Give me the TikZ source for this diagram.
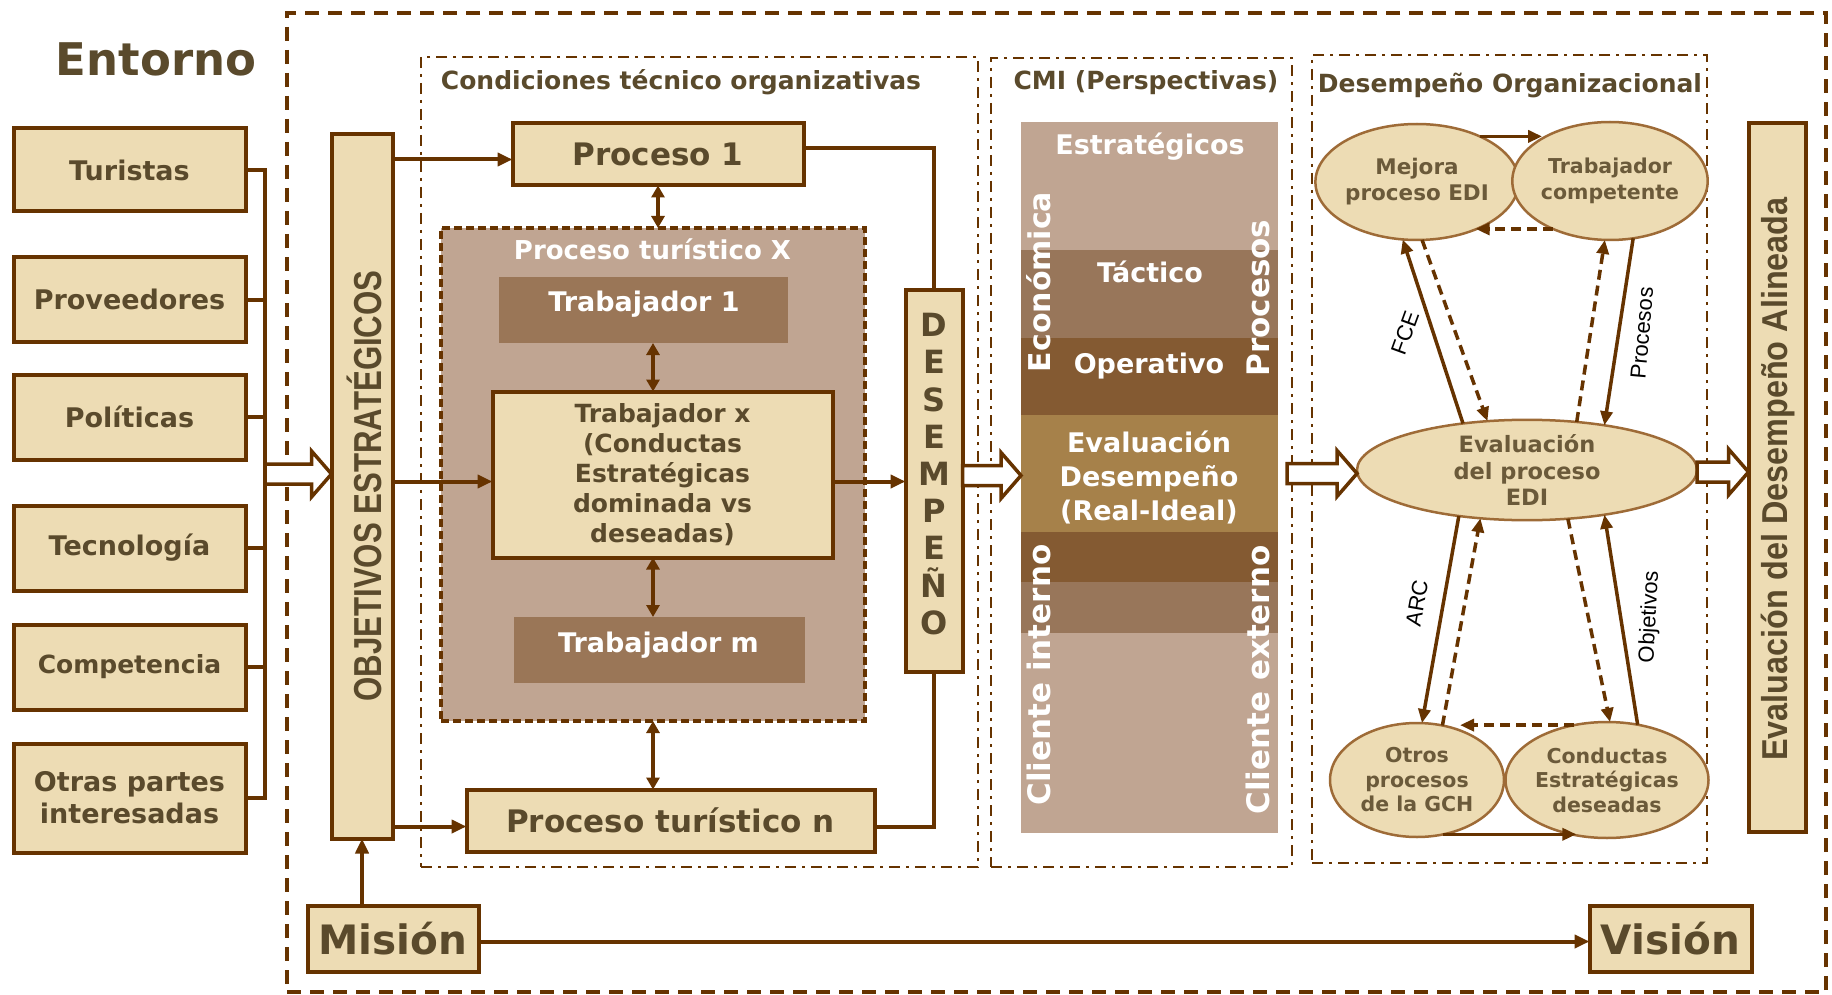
\documentclass[tikz,border=0pt]{standalone}
\usepackage{fontspec}
\usepackage{graphicx}
\setmainfont{DejaVu Sans}
\newfontfamily\arialfont{Liberation Sans}
\usetikzlibrary{arrows.meta,shapes.geometric,calc}

\definecolor{bdr}{HTML}{663300}
\definecolor{beige}{HTML}{EDDCB4}
\definecolor{txt}{HTML}{5A4A2C}
\definecolor{pxfill}{HTML}{C0A592}
\definecolor{wfill}{HTML}{9A7657}
\definecolor{bandA}{HTML}{C0A592}
\definecolor{bandB}{HTML}{98765A}
\definecolor{bandC}{HTML}{845A32}
\definecolor{bandD}{HTML}{A6814A}
\definecolor{elbdr}{HTML}{9E6B37}
\definecolor{eltxt}{HTML}{6B5A3A}

% hollow block arrow from #1 (start of shaft) to #2 (tip), horizontal at the height of #1
\newcommand{\blockarrow}[2]{%
  \draw[blk] let \p1=(#1), \p2=(#2) in
    (\x1,\y1+10pt) -- (\x2-20pt,\y1+10pt) -- (\x2-20pt,\y1+23pt)
    -- (\x2,\y1) -- (\x2-20pt,\y1-23pt) -- (\x2-20pt,\y1-10pt)
    -- (\x1,\y1-10pt) -- cycle;}

\begin{document}
\begin{tikzpicture}[x=1pt,y=-1pt,
  box/.style={draw=bdr, line width=4pt, fill=beige, inner sep=0pt, outer sep=0pt,
    text=txt, align=center, font=\bfseries\fontsize{27}{32}\selectfont},
  wbox/.style={fill=wfill, inner sep=0pt, outer sep=0pt},
  wtxt/.style={text=white, inner sep=0pt, font=\bfseries\fontsize{27}{32}\selectfont},
  cmit/.style={text=white, inner sep=0pt, align=center, font=\bfseries\fontsize{27}{34}\selectfont},
  ttl/.style={text=txt, inner sep=0pt, font=\bfseries\fontsize{25}{30}\selectfont},
  frame/.style={draw=bdr, line width=2.5pt, inner sep=0pt, outer sep=0pt,
    dash pattern=on 11pt off 6pt on 3pt off 6pt},
  outerframe/.style={draw=bdr, line width=4pt, inner sep=0pt, outer sep=0pt,
    dash pattern=on 14pt off 9pt},
  conn/.style={draw=bdr, line width=4pt},
  arr/.style={conn, -{Triangle[length=15pt,width=13pt]}},
  darr/.style={conn, {Triangle[length=12pt,width=13pt]}-{Triangle[length=12pt,width=13pt]}},
  blk/.style={draw=bdr, line width=3.5pt, fill=white, line join=miter},
  ell/.style={ellipse, draw=elbdr, line width=2.5pt, fill=beige, inner sep=0pt, outer sep=0pt,
    align=center, text=eltxt, font=\bfseries\fontsize{20.5}{26}\selectfont},
  earr/.style={draw=bdr, line width=3.5pt, -{Triangle[length=14pt,width=12pt]}},
  edash/.style={earr, dash pattern=on 10pt off 6pt},
  lbl/.style={text=black, inner sep=0pt, font=\arialfont\fontsize{22}{26}\selectfont}
]
\fill[white] (0,0) rectangle (1832,995);
\useasboundingbox (0,0) rectangle (1832,995);

% ---------- frames ----------
\node[outerframe, minimum width=1539, minimum height=979] (outer) at (1056.5,502.5) {};
\node[frame, minimum width=557, minimum height=810] (cond) at (699.5,462) {};
\node[frame, minimum width=301, minimum height=809] (cmi) at (1141.5,462.5) {};
\node[frame, minimum width=395, minimum height=808] (desorg) at (1509.5,459) {};

\node[anchor=base, text=txt, inner sep=0pt, font=\bfseries\fontsize{45}{54}\selectfont] (entorno) at (156,76) {Entorno};
\node[ttl, anchor=base] (condtitle) at (681,90) {Condiciones técnico organizativas};
\node[ttl, anchor=base] (cmititle) at (1146,90) {CMI (Perspectivas)};
\node[ttl, anchor=base] (desorgtitle) at (1510,93) {Desempeño Organizacional};

% ---------- environment ----------
\node[box, minimum width=232, minimum height=83] (tur) at (129.5,170) {Turistas};
\node[box, minimum width=232, minimum height=84] (prov) at (129.5,299.5) {Proveedores};
\node[box, minimum width=232, minimum height=85] (pol) at (129.5,417) {Políticas};
\node[box, minimum width=232, minimum height=85] (tec) at (129.5,548) {Tecnología};
\node[box, minimum width=232, minimum height=85, font=\bfseries\fontsize{25}{30}\selectfont] (comp) at (129.5,667) {Competencia};
\node[box, minimum width=232, minimum height=109] (otras) at (129.5,798) {Otras partes\\interesadas};

\coordinate (brk) at (265,474);
\draw[conn] (tur.east) -| (brk) |- (otras.east);
\foreach \n in {prov,pol,tec,comp}
  \draw[conn] (\n.east) -- (\n.east -| brk);

% ---------- strategic objectives ----------
\node[box, minimum width=61, minimum height=704] (obj) at (362,486.5) {};
\node[rotate=90, text=txt, inner sep=0pt, font=\arialfont\bfseries\fontsize{39}{44}\selectfont] (objtxt) at (364,486) {\scalebox{0.8}[1]{OBJETIVOS ESTRATÉGICOS}};
\blockarrow{brk}{obj.west}

% ---------- processes ----------
\node[box, minimum width=291, minimum height=62, font=\bfseries\fontsize{31}{36}\selectfont] (proc1) at (658,154.5) {Proceso 1};
\node[draw=bdr, line width=4pt, dash pattern=on 8pt off 4pt, fill=pxfill, inner sep=0pt, outer sep=0pt,
  minimum width=424, minimum height=493] (procX) at (653,474.5) {};
\node[wtxt, anchor=base, font=\bfseries\fontsize{26}{30}\selectfont] (procXtxt) at (652.5,260) {Proceso turístico X};
\node[wbox, minimum width=289, minimum height=66] (trab1) at (643.5,310) {};
\node[wtxt, anchor=base] (trab1txt) at (644,312) {Trabajador 1};
\node[box, minimum width=340, minimum height=166, font=\bfseries\fontsize{25}{30}\selectfont] (trabx) at (662.5,474.5)
  {Trabajador x\\(Conductas\\Estratégicas\\dominada vs\\deseadas)};
\node[wbox, minimum width=291, minimum height=66] (trabm) at (659.5,650) {};
\node[wtxt, anchor=base] (trabmtxt) at (658.5,652) {Trabajador m};
\node[box, minimum width=408, minimum height=62, font=\bfseries\fontsize{31}{36}\selectfont] (procn) at (670.5,820.5) {Proceso turístico n};

\node[box, minimum width=57, minimum height=382] (desem) at (934,480.5) {};
\node[text=txt, inner sep=0pt, align=center, font=\bfseries\fontsize{32}{37.2}\selectfont] (desemtxt) at (934,474)
  {D\\E\\S\\E\\M\\P\\E\\Ñ\\O};

\draw[arr] ($(obj.east |- proc1.west)+(0,5)$) -- ($(proc1.west)+(0,5)$);
\draw[arr] ($(obj.east |- trabx.west)+(0,7)$) -- ($(trabx.west)+(0,7)$);
\draw[arr] ($(obj.east |- procn.west)+(0,6)$) -- ($(procn.west)+(0,6)$);
\draw[darr] (proc1.south) -- (proc1.south |- procX.north);
\draw[darr] (procX.center |- trab1.south) -- (procX.center |- trabx.north);
\draw[darr] (procX.center |- trabx.south) -- (procX.center |- trabm.north);
\draw[darr] (procX.south) -- (procX.south |- procn.north);
\draw[conn] ($(proc1.east)+(0,-6)$) -| (desem.north);
\draw[conn] ($(procn.east)+(0,6)$) -| (desem.south);
\draw[arr] ($(trabx.east)+(0,7)$) -- ($(trabx.east -| desem.west)+(0,7)$);

% ---------- CMI column ----------
\node[inner sep=0pt, outer sep=0pt, minimum width=257, minimum height=711] (cmicol) at (1149.5,477.5) {};
\fill[bandA] (1021,122) rectangle (1278,250);
\fill[bandB] (1021,250) rectangle (1278,338);
\fill[bandC] (1021,338) rectangle (1278,415);
\fill[bandD] (1021,415) rectangle (1278,532);
\fill[bandC] (1021,532) rectangle (1278,582);
\fill[bandB] (1021,582) rectangle (1278,633);
\fill[bandA] (1021,633) rectangle (1278,833);
\node[cmit, anchor=base] (estr) at (1150,155) {Estratégicos};
\node[cmit, anchor=base] (tact) at (1150,283) {Táctico};
\node[cmit, anchor=base] (oper) at (1149,373) {Operativo};
\node[cmit] (evdes) at (1149,477) {Evaluación\\Desempeño\\(Real-Ideal)};
\node[cmit, rotate=90, font=\bfseries\fontsize{30}{34}\selectfont] (econ) at (1039,282) {Económica};
\node[cmit, rotate=90, font=\bfseries\fontsize{31}{34}\selectfont] (procs) at (1258,298) {Procesos};
\node[cmit, rotate=90, font=\bfseries\fontsize{31}{34}\selectfont] (cint) at (1039,675) {Cliente interno};
\node[cmit, rotate=90, font=\bfseries\fontsize{31}{34}\selectfont] (cext) at (1258,680) {Cliente externo};

\blockarrow{$(desem.east)+(0,-5)$}{cmicol.west}

% ---------- organizational performance ----------
\node[ell, minimum width=174, minimum height=116, font=\bfseries\fontsize{21.5}{26}\selectfont] (mej) at (1417,182) {Mejora\\proceso EDI};
\node[ell, minimum width=168, minimum height=118] (tc) at (1610,181) {Trabajador\\competente};
\node[ell, minimum width=340, minimum height=96, font=\bfseries\fontsize{22.5}{26.5}\selectfont] (eval) at (1527,470) {Evaluación\\del proceso\\EDI};
\node[ell, minimum width=174, minimum height=114, font=\bfseries\fontsize{20.5}{24.5}\selectfont] (otros) at (1417,780) {Otros\\procesos\\de la GCH};
\node[ell, minimum width=174, minimum height=116, font=\bfseries\fontsize{20.5}{24.5}\selectfont] (condes) at (1607,780) {Conductas\\Estratégicas\\deseadas};

\blockarrow{$(cmicol.east)+(9,-4)$}{eval.west}

\draw[earr] (mej.36) -- (mej.36 -| tc.148);
\draw[edash] (tc.220) -- (tc.220 -| mej.321);
\draw[earr] (eval.144) -- (mej.256);
\draw[edash] (mej.275) -- (eval.129);
\draw[edash] (eval.44) -- (tc.265);
\draw[earr] (tc.292) -- (eval.30);
\draw[earr] (eval.214) -- (otros.85);
\draw[edash] (otros.65) -- (eval.226);
\draw[edash] (eval.310) -- (condes.87);
\draw[earr] (condes.61) -- (eval.330);
\draw[edash] (condes.121) -- (condes.121 -| otros.49);
\draw[earr] (otros.296) -- (otros.296 -| condes.241);

\node[lbl, rotate=70] (lfce) at (1405,333) {FCE};
\node[lbl, rotate=85] (lproc) at (1642,333) {Procesos};
\node[lbl, rotate=80] (larc) at (1417,603) {ARC};
\node[lbl, rotate=87] (lobj) at (1650,617) {Objetivos};

% ---------- aligned performance ----------
\node[box, minimum width=57, minimum height=708] (alin) at (1777,477.5) {};
\node[rotate=90, text=txt, inner sep=0pt, font=\arialfont\bfseries\fontsize{36}{40}\selectfont] (alintxt) at (1778,479)
  {\scalebox{0.9}[1]{Evaluación del Desempeño Alineada}};
\blockarrow{$(eval.east)+(0,2)$}{alin.west}

% ---------- mission and vision ----------
\node[box, minimum width=171, minimum height=66, font=\bfseries\fontsize{40.5}{46}\selectfont] (mision) at (393,938.5) {Misión};
\node[box, minimum width=162, minimum height=66, font=\bfseries\fontsize{40.5}{46}\selectfont] (vision) at (1670.5,938.5) {Visión};
\draw[arr] (mision.north -| obj.south) -- (obj.south);
\draw[arr] ($(mision.east)+(0,3)$) -- ($(vision.west)+(0,3)$);
\end{tikzpicture}
\end{document}
